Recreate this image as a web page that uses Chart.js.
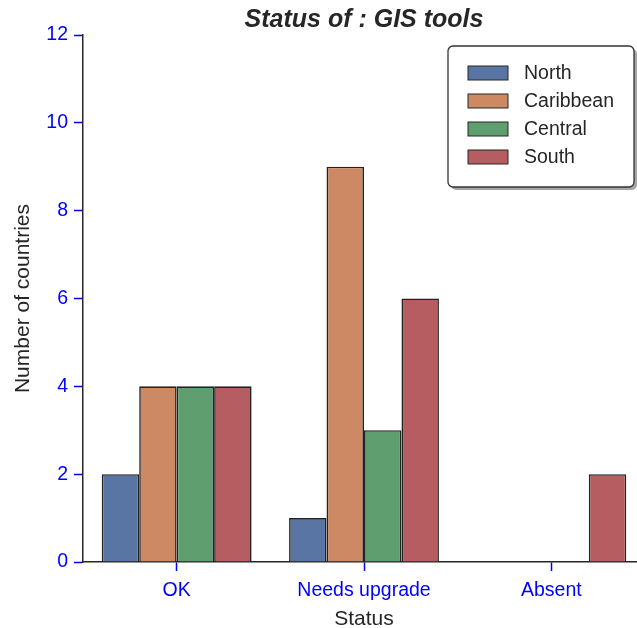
<!DOCTYPE html>
<html>
<head>
<meta charset="utf-8">
<script src="https://cdn.jsdelivr.net/npm/chart.js@4"></script>
<style>
  body { margin: 0; background: #fff; }
  #wrap { width: 637px; height: 628px; overflow: hidden; position: relative; }
</style>
</head>
<body>
<div id="wrap"><canvas id="statusChart" width="645" height="628"></canvas></div>
<script>
const statusLabels = ["OK", "Needs upgrade", "Absent"];
const regionNames = ["North", "Caribbean", "Central", "South"];
const northCounts = [2, 1, 0];
const caribbeanCounts = [4, 9, 0];
const centralCounts = [4, 3, 0];
const southCounts = [4, 6, 2];
const regionColors = ["#5975a4", "#cc8963", "#5f9e6e", "#b55d60"];

const FONT = "'Liberation Sans', Arial, sans-serif";
const TEXT = "#262626";

// legend box drawn inside the plot, top right, with a drop shadow
const boxLegend = {
  id: "boxLegend",
  afterDraw(chart) {
    const ctx = chart.ctx;
    const x = 448, y = 46, w = 186, h = 141;
    ctx.save();
    ctx.fillStyle = "rgba(0,0,0,0.35)";
    ctx.beginPath();
    ctx.roundRect(x + 3, y + 3, w, h, 5);
    ctx.fill();
    ctx.fillStyle = "#fff";
    ctx.strokeStyle = "#333";
    ctx.lineWidth = 1.3;
    ctx.beginPath();
    ctx.roundRect(x, y, w, h, 5);
    ctx.fill();
    ctx.stroke();
    ctx.font = "19.5px " + FONT;
    ctx.textBaseline = "middle";
    chart.data.datasets.forEach((ds, i) => {
      const cy = y + 27 + i * 28;
      ctx.fillStyle = ds.backgroundColor;
      ctx.fillRect(x + 20, cy - 7, 40, 14);
      ctx.strokeStyle = "#262626";
      ctx.lineWidth = 1;
      ctx.strokeRect(x + 20, cy - 7, 40, 14);
      ctx.fillStyle = TEXT;
      ctx.fillText(ds.label, x + 76, cy + 1);
    });
    ctx.restore();
  }
};

const seriesValues = [northCounts, caribbeanCounts, centralCounts, southCounts];

new Chart(document.getElementById("statusChart"), {
  type: "bar",
  data: {
    labels: statusLabels,
    datasets: regionNames.map((name, i) => ({
      label: name,
      data: seriesValues[i],
      backgroundColor: regionColors[i],
      borderColor: "#222",
      borderWidth: 1.6,
      categoryPercentage: 0.8,
      barPercentage: 1.0
    }))
  },
  options: {
    responsive: false,
    animation: false,
    layout: { padding: 0 },
    plugins: {
      legend: { display: false },
      tooltip: { enabled: false },
      title: {
        display: true,
        fullSize: false,
        text: "Status of : GIS tools",
        color: TEXT,
        font: { family: FONT, size: 25, weight: "bold", style: "italic", lineHeight: 1.2 },
        padding: { top: 5, bottom: 0 }
      }
    },
    scales: {
      x: {
        grid: { display: true, offset: false, drawOnChartArea: false, drawTicks: true, tickLength: 9, tickColor: "#0000ff", tickWidth: 1.5 },
        border: { display: true, color: "#262626", width: 1.5 },
        ticks: { color: "#0000ff", font: { family: FONT, size: 19.5 }, padding: 8 },
        title: { display: true, text: "Status", color: TEXT, font: { family: FONT, size: 21, lineHeight: 0.8 }, padding: { top: 0, bottom: 0 } },
        afterFit(scale) { scale.height = 66; }
      },
      y: {
        min: 0,
        max: 12,
        ticks: { stepSize: 2, color: "#0000ff", font: { family: FONT, size: 19.5 }, padding: 6 },
        grid: { display: true, drawOnChartArea: false, drawTicks: true, tickLength: 9, tickColor: "#0000ff", tickWidth: 1.5 },
        border: { display: true, color: "#262626", width: 1.5 },
        title: { display: true, text: "Number of countries", color: TEXT, font: { family: FONT, size: 21, lineHeight: 1 }, padding: { top: 13, bottom: 0 } },
        afterFit(scale) { scale.width = 83; }
      }
    }
  },
  plugins: [boxLegend]
});
</script>
</body>
</html>
